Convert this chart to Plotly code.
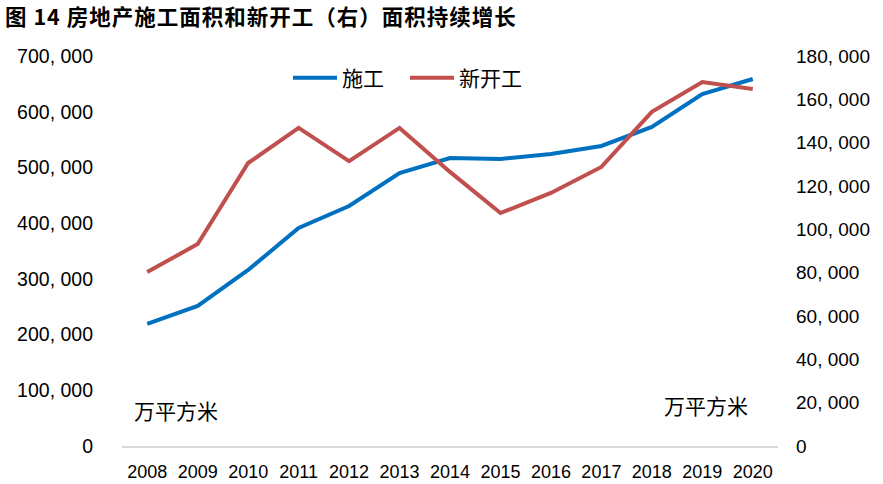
import plotly.graph_objects as go

years = ["2008", "2009", "2010", "2011", "2012", "2013", "2014",
         "2015", "2016", "2017", "2018", "2019", "2020"]
construction = [219000, 251300, 315900, 391300, 430800, 490000, 516900,
                515100, 524100, 538500, 572600, 631800, 658700]
new_starts = [80300, 93200, 130600, 146800, 131500, 146800, 126500,
              107500, 116800, 128800, 154200, 168000, 164800]

left_ticks = list(range(0, 700001, 100000))
right_ticks = list(range(0, 180001, 20000))


def fmt(v):
    return f"{v:,}".replace(",", ", ")


CJK = "Noto Sans CJK SC"
NUM = "Liberation Sans, Arial, sans-serif"

fig = go.Figure()
fig.add_trace(go.Scatter(x=years, y=construction, name="施工", mode="lines",
                         line=dict(color="#0070C0", width=4), yaxis="y"))
fig.add_trace(go.Scatter(x=years, y=new_starts, name="新开工", mode="lines",
                         line=dict(color="#C0504D", width=4), yaxis="y2"))

fig.update_layout(
    width=883, height=484,
    margin=dict(l=122, r=105, t=56, b=38),
    paper_bgcolor="white", plot_bgcolor="white",
    showlegend=True,
    title=dict(text="<b>图 14 房地产施工面积和新开工（右）面积持续增长</b>",
               x=5 / 883, xanchor="left", xref="container",
               y=1 - 17 / 484, yanchor="middle", yref="container",
               font=dict(family=CJK, size=21.5, color="black")),
    xaxis=dict(type="category", range=[-0.5, 12.5], showgrid=False,
               showline=True, linecolor="#D9D9D9", linewidth=2,
               ticks="", tickfont=dict(family=NUM, size=18, color="black"),
               ticklabelstandoff=8, automargin=False),
    yaxis=dict(range=[0, 700000], tickvals=left_ticks,
               ticktext=[fmt(v) for v in left_ticks], showgrid=False,
               zeroline=False, ticks="", ticklabelstandoff=28,
               automargin=False,
               tickfont=dict(family=NUM, size=19.5, color="black")),
    yaxis2=dict(range=[0, 180000], tickvals=right_ticks,
                ticktext=[fmt(v) for v in right_ticks], overlaying="y",
                side="right", showgrid=False, zeroline=False, ticks="",
                ticklabelstandoff=17, automargin=False,
                tickfont=dict(family=NUM, size=19, color="black")),
    legend=dict(orientation="h", x=(288 - 122) / 656, xanchor="left",
                y=(446 - 78) / 390, yanchor="middle", bgcolor="rgba(0,0,0,0)",
                font=dict(family=CJK, size=21, color="black"),
                itemwidth=44, entrywidth=58, entrywidthmode="pixels",
                tracegroupgap=0),
    annotations=[
        dict(text="万平方米", xref="paper", yref="paper",
             x=(176 - 122) / 656, y=(446 - 410) / 390, showarrow=False,
             xanchor="center", yanchor="middle",
             font=dict(family=CJK, size=21, color="black")),
        dict(text="万平方米", xref="paper", yref="paper",
             x=(706 - 122) / 656, y=(446 - 405) / 390, showarrow=False,
             xanchor="center", yanchor="middle",
             font=dict(family=CJK, size=21, color="black")),
    ],
)

post = """
var t = document.querySelectorAll('.gtitle');
for (var i = 0; i < t.length; i++) { t[i].style.letterSpacing = '1px'; }
"""

fig.write_html("out.html", post_script=post)
